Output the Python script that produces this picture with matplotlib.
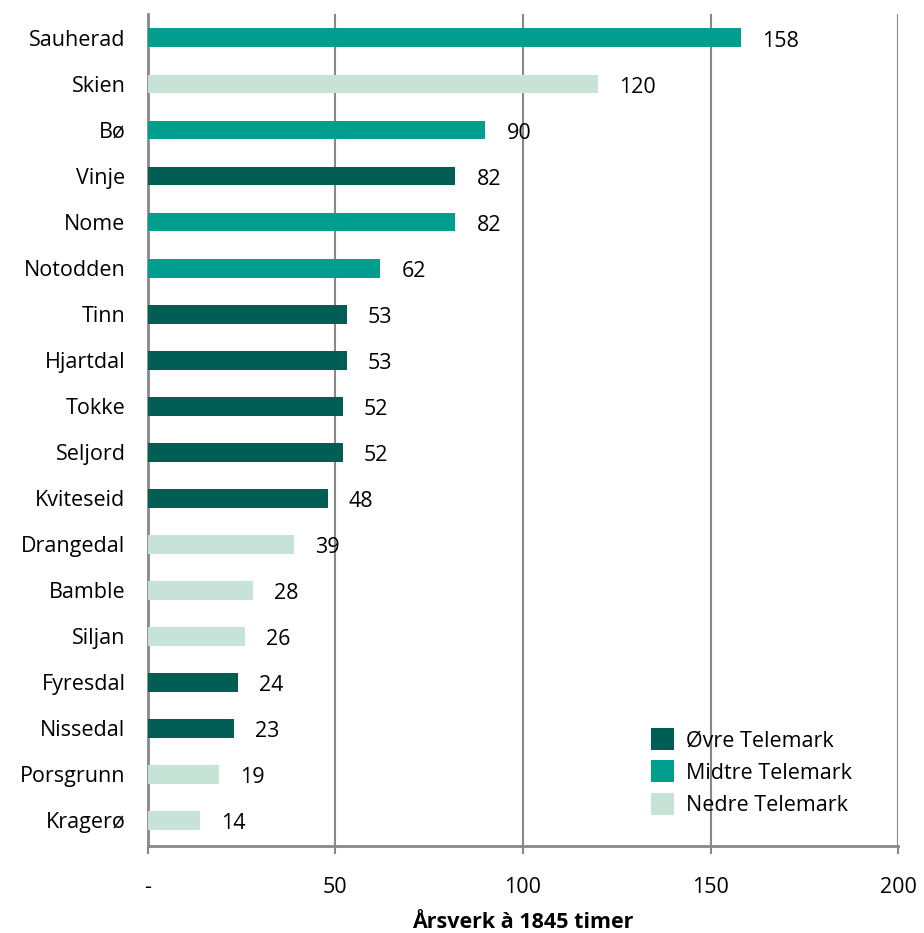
import matplotlib
matplotlib.use("Agg")
import matplotlib.pyplot as plt
from matplotlib.patches import Patch

categories = ["Sauherad", "Skien", "Bø", "Vinje", "Nome", "Notodden", "Tinn", "Hjartdal",
              "Tokke", "Seljord", "Kviteseid", "Drangedal", "Bamble", "Siljan", "Fyresdal",
              "Nissedal", "Porsgrunn", "Kragerø"]
values = [158, 120, 90, 82, 82, 62, 53, 53, 52, 52, 48, 39, 28, 26, 24, 23, 19, 14]
regions = ["Midtre", "Nedre", "Midtre", "Øvre", "Midtre", "Midtre", "Øvre", "Øvre",
           "Øvre", "Øvre", "Øvre", "Nedre", "Nedre", "Nedre", "Øvre", "Øvre", "Nedre", "Nedre"]
region_labels = ["Øvre Telemark", "Midtre Telemark", "Nedre Telemark"]
region_keys = ["Øvre", "Midtre", "Nedre"]
region_colors = {"Øvre": "#005E54", "Midtre": "#009E8F", "Nedre": "#C7E3D8"}
xticks = [0, 50, 100, 150, 200]
xticklabels = ["-", "50", "100", "150", "200"]

plt.rcParams['font.family'] = ['Open Sans', 'DejaVu Sans']

fig = plt.figure(figsize=(9.24, 9.33), dpi=100)
ax = fig.add_axes([0.160, 0.093, 0.812, 0.892])

ypos = list(range(len(categories)))
ax.barh(ypos, values, height=0.41, color=[region_colors[r] for r in regions], zorder=3)
for y, v in zip(ypos, values):
    ax.text(v + 5.6, y + 0.07, str(v), va="center", ha="left", fontsize=15.5, color="black", zorder=4)

ax.set_xlim(0, 200)
ax.set_ylim(17.56, -0.52)
ax.set_yticks(ypos)
ax.set_yticklabels(categories, fontsize=15.5)
ax.tick_params(axis="y", length=0, pad=16)
ax.set_xticks(xticks)
ax.set_xticklabels(xticklabels, fontsize=15.5)
ax.tick_params(axis="x", length=6, width=1.5, color="#888888", pad=16, direction="out")
ax.xaxis.grid(True, color="#888888", linewidth=1.5, zorder=0)
for s in ["top", "right"]:
    ax.spines[s].set_visible(False)
for s in ["left", "bottom"]:
    ax.spines[s].set_color("#888888")
    ax.spines[s].set_linewidth(2)
ax.set_xlabel("Årsverk à 1845 timer", fontsize=15.5, fontweight="bold", labelpad=10)

handles = [Patch(facecolor=region_colors[k], edgecolor="none") for k in region_keys]
ax.legend(handles, region_labels, loc="lower right", bbox_to_anchor=(0.965, 0.013),
          frameon=False, fontsize=15.5, handlelength=1.05, handleheight=1.2,
          handletextpad=0.6, labelspacing=0.42)

fig.savefig("out.png", dpi=100)
